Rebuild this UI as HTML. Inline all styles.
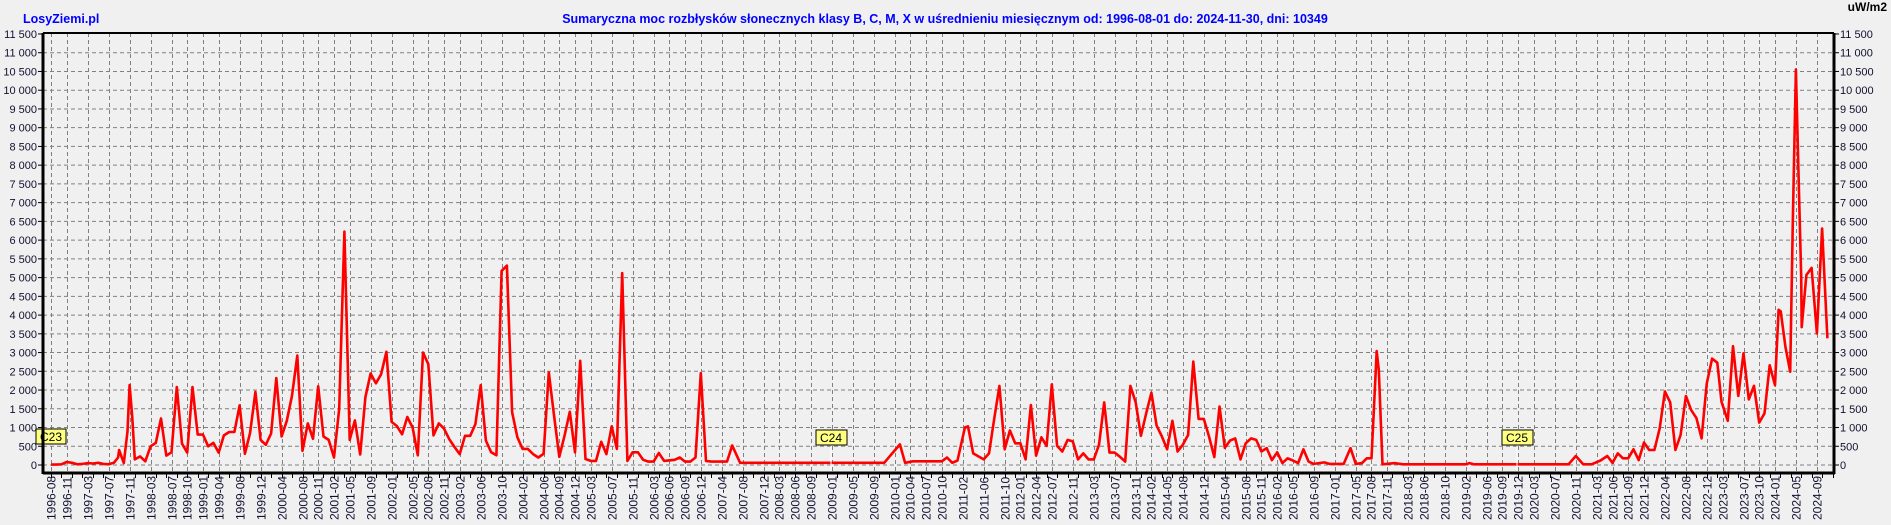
<!DOCTYPE html>
<html><head><meta charset="utf-8"><style>
html,body{margin:0;padding:0;background:#f0f0f0;}
body{width:1891px;height:525px;overflow:hidden;position:relative;font-family:"Liberation Sans",Arial,sans-serif;}
</style></head><body>
<svg id="s" width="1891" height="525" xmlns="http://www.w3.org/2000/svg" style="position:absolute;left:0;top:0">
<rect width="1891" height="525" fill="#f0f0f0"/>
<g id="grid"></g>
<g id="lab" font-family="Liberation Sans, Arial, sans-serif" font-size="12" fill="#101030"></g>
<text x="23" y="23" font-size="12.5" font-weight="bold" fill="#0000ff" font-family="Liberation Sans, Arial, sans-serif">LosyZiemi.pl</text>
<text x="945" y="23" font-size="12.5" font-weight="bold" fill="#0000ff" text-anchor="middle" font-family="Liberation Sans, Arial, sans-serif">Sumaryczna moc rozbłysków słonecznych klasy B, C, M, X w uśrednieniu miesięcznym od: 1996-08-01 do: 2024-11-30, dni: 10349</text>
<text x="1887" y="11" font-size="12" font-weight="bold" fill="#000" text-anchor="end" font-family="Liberation Sans, Arial, sans-serif">uW/m2</text>
<polyline id="ln" fill="none" stroke="#ff0000" stroke-width="2.6" stroke-linejoin="round"/>
<line x1="831" y1="445" x2="831" y2="472" stroke="#fff" stroke-width="1"/>
<line x1="1517" y1="445" x2="1517" y2="472" stroke="#fff" stroke-width="1"/>
<rect x="36" y="429" width="30" height="15" fill="#ffff80" stroke="#000" stroke-width="1"/>
<text x="51" y="441" font-size="12" text-anchor="middle" fill="#000" font-family="Liberation Sans, Arial, sans-serif">C23</text>
<rect x="816" y="430" width="31" height="15" fill="#ffff80" stroke="#000" stroke-width="1"/>
<text x="831" y="442" font-size="12" text-anchor="middle" fill="#000" font-family="Liberation Sans, Arial, sans-serif">C24</text>
<rect x="1502" y="430" width="31" height="15" fill="#ffff80" stroke="#000" stroke-width="1"/>
<text x="1517" y="442" font-size="12" text-anchor="middle" fill="#000" font-family="Liberation Sans, Arial, sans-serif">C25</text>
<g id="axes"></g>
</svg>
<script>
var NS="http://www.w3.org/2000/svg";
function el(t,a,p){var e=document.createElementNS(NS,t);for(var k in a)e.setAttribute(k,a[k]);if(p)p.appendChild(e);return e;}
var X0=51,DX=5.24,Y0=465,K=0.03748,L=43,R=1834,T=33,B=473;
function xi(i){return X0+DX*i;}function yv(v){return Y0-v*K;}
var grid=document.getElementById('grid'),lab=document.getElementById('lab'),axes=document.getElementById('axes');
for(var k=0;k<=23;k++){var v=k*500,y=yv(v);
 if(k<23)el('line',{x1:L,x2:R,y1:y,y2:y,stroke:'#808080','stroke-dasharray':'4 3','stroke-width':1},grid);
 var s=v>=1000?(Math.floor(v/1000)+' '+('00'+(v%1000)).slice(-3)):String(v);
 var t=el('text',{x:37,y:y+4,'text-anchor':'end','font-size':11},lab);t.textContent=s;
 var t2=el('text',{x:1840,y:y+4,'font-size':11},lab);t2.textContent=s;
 el('line',{x1:38,x2:L,y1:y,y2:y,stroke:'#000'},axes);
 el('line',{x1:R,x2:R+5,y1:y,y2:y,stroke:'#000'},axes);
}
var labs="1996-08 1996-11 1997-03 1997-07 1997-11 1998-03 1998-07 1998-10 1999-01 1999-04 1999-08 1999-12 2000-04 2000-08 2000-11 2001-02 2001-05 2001-09 2002-01 2002-05 2002-08 2002-11 2003-02 2003-06 2003-10 2004-02 2004-06 2004-09 2004-12 2005-03 2005-07 2005-11 2006-03 2006-06 2006-09 2006-12 2007-04 2007-08 2007-12 2008-03 2008-06 2008-09 2009-01 2009-05 2009-09 2010-01 2010-04 2010-07 2010-10 2011-02 2011-06 2011-10 2012-01 2012-04 2012-07 2012-11 2013-03 2013-07 2013-11 2014-02 2014-05 2014-08 2014-12 2015-04 2015-08 2015-11 2016-02 2016-05 2016-09 2017-01 2017-05 2017-08 2017-11 2018-03 2018-06 2018-10 2019-02 2019-06 2019-09 2019-12 2020-03 2020-07 2020-11 2021-03 2021-06 2021-09 2021-12 2022-04 2022-08 2022-12 2023-03 2023-07 2023-10 2024-01 2024-05 2024-09".split(' ');
labs.forEach(function(s){var yy=+s.slice(0,4),mm=+s.slice(5);var i=(yy-1996)*12+mm-8;var x=Math.round(xi(i))+0.5;
 el('line',{x1:x,x2:x,y1:T,y2:B,stroke:'#808080','stroke-dasharray':'4 3','stroke-width':1},grid);
 var t=el('text',{x:0,y:0,transform:'translate('+(x+4)+',520) rotate(-90)'},lab);t.textContent=s;
});
for(var i=0;i<=340;i+=2){var x=Math.round(xi(i))+0.5;el('line',{x1:x,x2:x,y1:B,y2:B+5,stroke:'#000'},axes);}
el('line',{x1:L,x2:R,y1:T,y2:T,stroke:'#000','stroke-width':2},axes);
el('line',{x1:L,x2:L,y1:T,y2:B+1,stroke:'#000','stroke-width':3},axes);
el('line',{x1:R,x2:R,y1:T,y2:B+1,stroke:'#000','stroke-width':3},axes);
el('line',{x1:L,x2:R+1,y1:B,y2:B,stroke:'#000','stroke-width':3},axes);
var P=[[0,10],[1,10],[2,20],[3,80],[4,60],[5,20],[6,30],[7,50],[8,40],[9,60],[10,30],[11,20],[12,60],[12.8,200],[13,400],[13.9,50],[14.6,900],[15,2135],[15.5,1300],[16,150],[17,230],[18,100],[19,500],[20,590],[21,1240],[22,250],[23,340],[24,2080],[25,570],[26,330],[27,2080],[28,810],[29,810],[30,500],[31,590],[32,330],[33,790],[34,880],[35,880],[36,1590],[37,300],[38,860],[39,1950],[40,670],[41,540],[42,840],[43,2320],[44,760],[45,1180],[46,1850],[47,2920],[48,380],[49,1110],[50,700],[51,2100],[52,760],[53,670],[54,200],[55,1500],[56,6230],[57,670],[58,1190],[59,280],[60,1810],[61,2440],[62,2180],[63,2420],[64,3020],[65,1150],[66,1040],[67,820],[68,1280],[69,1000],[70,260],[71,3000],[72,2690],[73,790],[74,1110],[75,970],[76,690],[77,480],[78,290],[79,780],[80,780],[81,1090],[82,2130],[83,650],[84,340],[85,260],[86,5180],[87,5320],[88,1410],[89,740],[90,430],[91,430],[92,290],[93,200],[94,300],[95,2470],[96,1330],[97,220],[98,780],[99,1420],[100,340],[101,2780],[102,160],[103,110],[104,110],[105,620],[106,290],[107,1030],[108,430],[109,5120],[110,110],[111,340],[112,340],[113,140],[114,90],[115,90],[116,320],[117,110],[119,140],[120,200],[121,90],[122,90],[123,200],[124,2450],[125,110],[126,90],[129,90],[130,520],[131.5,60],[135,60],[159,60],[162,550],[163,60],[164.5,100],[170,100],[171,200],[172,60],[173,120],[174.4,1000],[175,1030],[176,310],[178,150],[179,310],[180,1230],[181,2110],[182,420],[183,920],[184,580],[185,580],[186,150],[187,1600],[188,250],[189,740],[190,510],[191,2150],[192,510],[193,360],[194,670],[195,630],[196,150],[197,310],[198,150],[199,150],[200,540],[201,1670],[202,330],[203,330],[204,220],[205,90],[206,2110],[207,1670],[208,780],[209,1380],[210,1930],[211,1050],[212,760],[213,420],[214,1180],[215,360],[216,540],[217,800],[218,2760],[219,1230],[220,1230],[221,760],[222,210],[223,1560],[224,460],[225,650],[226,710],[227,150],[228,580],[229,710],[230,670],[231,360],[232,450],[233,130],[234,340],[235,50],[236,180],[237,120],[238,50],[239,420],[240,90],[241,30],[243,70],[244,30],[246.7,30],[248,450],[249,30],[250.2,50],[251.1,180],[252,180],[253,3040],[253.4,2530],[254.1,20],[256.5,50],[258,20],[270,20],[270.7,50],[271.5,20],[289.6,20],[291,240],[292.4,20],[294,20],[295.7,120],[297,240],[298,60],[299,310],[300,180],[301,180],[302,420],[303,130],[304,600],[305,400],[306,400],[307,980],[308,1960],[309,1670],[310,400],[311,800],[312,1840],[313,1470],[314,1250],[315,710],[315.5,1460],[316,2180],[317,2840],[318,2730],[318.8,1690],[320,1180],[321,3170],[322,1840],[323,2980],[324,1750],[325,2110],[326,1130],[327,1380],[328,2660],[329,2130],[329.7,4140],[330.1,4100],[331,3160],[331.9,2490],[332.4,6490],[333,10550],[333.5,7780],[334,5020],[334.1,3680],[335,5070],[336,5260],[337,3510],[338,6310],[339,3380]];
document.getElementById('ln').setAttribute('points',P.map(function(p){return xi(p[0]).toFixed(1)+','+yv(p[1]).toFixed(1);}).join(' '));
</script>
</body></html>
